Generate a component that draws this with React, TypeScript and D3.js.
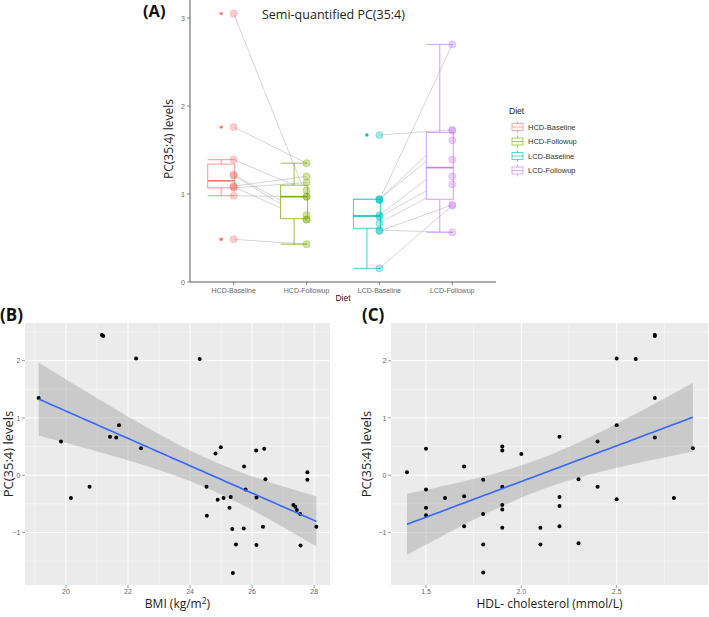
import React from "react";
import * as d3 from "d3";

// ---- panel A data (paired subjects, baseline -> followup)
const dietGroups = ["HCD-Baseline", "HCD-Followup", "LCD-Baseline", "LCD-Followup"];
const dietColors = ["#F8766D", "#7CAE00", "#00BFC4", "#C77CFF"];
const hcdBaseline = [3.05, 1.76, 1.39, 1.22, 1.21, 1.09, 1.08, 1.07, 0.98, 0.485];
const hcdFollowup = [0.97, 1.35, 1.04, 0.76, 0.71, 1.2, 0.71, 1.13, 0.97, 0.43];
const lcdBaseline = [1.67, 0.94, 0.94, 0.93, 0.76, 0.74, 0.67, 0.59, 0.58, 0.155];
const lcdFollowup = [1.73, 1.72, 1.61, 2.7, 1.39, 1.2, 1.11, 0.565, 0.875, 0.87];
// box stats
const boxLower = [0.98, 0.43, 0.155, 0.565];
const boxQ1 = [1.07, 0.72, 0.61, 0.94];
const boxMedian = [1.15, 0.97, 0.75, 1.3];
const boxQ3 = [1.34, 1.1, 0.94, 1.7];
const boxUpper = [1.39, 1.35, 0.94, 2.7];
const yTicksA = [0, 1, 2, 3];

// ---- panel B / C data
const bmi = [19.12, 19.84, 20.16, 20.76, 21.16, 21.2, 21.42, 21.62, 21.71, 22.26, 22.42, 24.31, 24.53, 24.54, 24.82, 24.89, 24.99, 25.08, 25.27, 25.31, 25.36, 25.38, 25.48, 25.74, 25.73, 25.79, 26.13, 26.14, 26.14, 26.35, 26.39, 26.43, 27.33, 27.39, 27.44, 27.55, 27.56, 27.78, 27.78, 28.07];
const pcB = [1.35, 0.59, -0.4, -0.2, 2.45, 2.43, 0.67, 0.66, 0.87, 2.04, 0.47, 2.03, -0.2, -0.71, 0.38, -0.43, 0.49, -0.4, -0.57, -0.38, -0.94, -1.71, -1.21, 0.15, -0.93, -0.25, 0.43, -0.39, -1.22, -0.9, 0.46, -0.07, -0.52, -0.55, -0.61, -0.68, -1.23, 0.05, -0.08, -0.9];
const hdl = [1.4, 1.5, 1.5, 1.5, 1.5, 1.6, 1.7, 1.7, 1.7, 1.8, 1.8, 1.8, 1.8, 1.9, 1.9, 1.9, 1.9, 1.9, 1.9, 2.0, 2.1, 2.1, 2.2, 2.2, 2.2, 2.2, 2.3, 2.3, 2.4, 2.4, 2.5, 2.5, 2.5, 2.6, 2.7, 2.7, 2.7, 2.7, 2.8, 2.9];
const pcC = [0.05, 0.46, -0.25, -0.57, -0.7, -0.4, 0.15, -0.37, -0.89, -0.08, -0.68, -1.21, -1.7, 0.5, 0.43, -0.2, -0.52, -0.6, -0.92, 0.37, -0.92, -1.21, 0.67, -0.38, -0.54, -0.89, -0.07, -1.19, 0.59, -0.2, 2.04, 0.87, -0.42, 2.03, 2.45, 2.43, 1.35, 0.66, -0.4, 0.47];
const xTicksB = [20, 22, 24, 26, 28];
const xMinorB = [19, 21, 23, 25, 27];
const xTicksC = [1.5, 2.0, 2.5];
const xMinorC = [1.75, 2.25, 2.75];
const yTicksBC = [-1, 0, 1, 2];
const yMinorBC = [-1.5, -0.5, 0.5, 1.5, 2.5];

const TEXT_FONT = "'Open Sans', sans-serif";
const TICK_FONT = "'Liberation Sans', Arial, sans-serif";

// lm fit with 95% band, like geom_smooth(method = "lm")
function lmBand(xs: number[], ys: number[]) {
  const n = xs.length;
  const mx = d3.mean(xs) as number;
  const my = d3.mean(ys) as number;
  const sxx = d3.sum(xs, (x) => (x - mx) ** 2);
  const sxy = d3.sum(xs, (x, i) => (x - mx) * (ys[i] - my));
  const b = sxy / sxx;
  const a = my - b * mx;
  const s = Math.sqrt(d3.sum(xs, (x, i) => (ys[i] - a - b * x) ** 2) / (n - 2));
  const t = 2.024;
  const [lo, hi] = d3.extent(xs) as [number, number];
  return d3.range(80).map((k) => {
    const x = lo + ((hi - lo) * k) / 79;
    const se = s * Math.sqrt(1 / n + (x - mx) ** 2 / sxx);
    const y = a + b * x;
    return { x, y, lo: y - t * se, hi: y + t * se };
  });
}

function ScatterPanel(props: {
  xs: number[]; ys: number[]; xDomain: [number, number]; left: number; right: number;
  xTicks: number[]; xMinor: number[]; fmt: (v: number) => string;
  tag: string; tagX: number; yLabelX: number; xLabel: React.ReactNode;
}) {
  const { xs, ys, left, right } = props;
  const top = 323, bottom = 585;
  const x = d3.scaleLinear().domain(props.xDomain).range([left, right]);
  const y = d3.scaleLinear().domain([-1.918, 2.658]).range([bottom, top]);
  const fit = lmBand(xs, ys);
  const area = d3.area<any>().x((d) => x(d.x)).y0((d) => y(d.lo)).y1((d) => y(d.hi));
  const line = d3.line<any>().x((d) => x(d.x)).y((d) => y(d.y));
  return (
    <g>
      <rect x={left} y={top} width={right - left} height={bottom - top} fill="#EBEBEB" />
      {props.xMinor.map((v) => (
        <line key={"xm" + v} x1={x(v)} x2={x(v)} y1={top} y2={bottom} stroke="#fff" strokeWidth={0.5} />
      ))}
      {yMinorBC.map((v) => (
        <line key={"ym" + v} x1={left} x2={right} y1={y(v)} y2={y(v)} stroke="#fff" strokeWidth={0.5} />
      ))}
      {props.xTicks.map((v) => (
        <line key={"xg" + v} x1={x(v)} x2={x(v)} y1={top} y2={bottom} stroke="#fff" strokeWidth={1} />
      ))}
      {yTicksBC.map((v) => (
        <line key={"yg" + v} x1={left} x2={right} y1={y(v)} y2={y(v)} stroke="#fff" strokeWidth={1} />
      ))}
      <path d={area(fit) as string} fill="#999999" fillOpacity={0.4} />
      {xs.map((v, i) => (
        <circle key={i} cx={x(v)} cy={y(ys[i])} r={2} fill="#000" />
      ))}
      <path d={line(fit) as string} fill="none" stroke="#3366FF" strokeWidth={1.6} />
      {props.xTicks.map((v) => (
        <g key={"xt" + v}>
          <line x1={x(v)} x2={x(v)} y1={bottom} y2={bottom + 3} stroke="#555" strokeWidth={0.6} />
          <text x={x(v)} y={bottom + 9} fontSize={7} fontFamily={TICK_FONT} fill="#666" textAnchor="middle">
            {props.fmt(v)}
          </text>
        </g>
      ))}
      {yTicksBC.map((v) => (
        <g key={"yt" + v}>
          <line x1={left - 3} x2={left} y1={y(v)} y2={y(v)} stroke="#555" strokeWidth={0.6} />
          <text x={left - 4.5} y={y(v) + 2.6} fontSize={7.2} fontFamily={TICK_FONT} fill="#666" textAnchor="end">
            {v < 0 ? "\u2212" + Math.abs(v) : v}
          </text>
        </g>
      ))}
      <text
        transform={`translate(${props.yLabelX},${454}) rotate(-90)`}
        fontSize={13} fontFamily={TEXT_FONT} fill="#222" textAnchor="middle">
        PC(35:4) levels
      </text>
      <text x={(left + right) / 2} y={608} fontSize={12} fontFamily={TEXT_FONT} fill="#222" textAnchor="middle">
        {props.xLabel}
      </text>
      <text x={props.tagX} y={321} fontSize={17} fontWeight="bold" fontFamily={TEXT_FONT} fill="#111">
        {props.tag}
      </text>
    </g>
  );
}

function PanelA() {
  const groups = [hcdBaseline, hcdFollowup, lcdBaseline, lcdFollowup];
  const x = d3.scalePoint<string>().domain(dietGroups).range([190, 496]).padding(0.6);
  const y = d3.scaleLinear().domain([0, 3]).range([282, 18]);
  const boxOffset = -12.5;
  const halfW = 13.5;
  const pairs: [number, number][] = [[0, 1], [2, 3]];
  return (
    <g>
      {/* paired lines */}
      {pairs.map(([a, b]) =>
        groups[a].map((v, i) => (
          <line key={a + "-" + i} x1={x(dietGroups[a])} y1={y(v)} x2={x(dietGroups[b])} y2={y(groups[b][i])}
            stroke="#c4c4c4" strokeWidth={0.9} strokeOpacity={0.8} />
        ))
      )}
      {/* boxplots */}
      {dietGroups.map((g, i) => {
        const cx = (x(g) as number) + boxOffset;
        const c = dietColors[i];
        return (
          <g key={g} stroke={c} fill="none">
            <g strokeOpacity={0.75} strokeWidth={1}>
              <line x1={cx - halfW} x2={cx + halfW} y1={y(boxUpper[i])} y2={y(boxUpper[i])} />
              <line x1={cx - halfW} x2={cx + halfW} y1={y(boxLower[i])} y2={y(boxLower[i])} />
              <line x1={cx} x2={cx} y1={y(boxUpper[i])} y2={y(boxQ3[i])} />
              <line x1={cx} x2={cx} y1={y(boxLower[i])} y2={y(boxQ1[i])} />
              <rect x={cx - halfW} width={2 * halfW} y={y(boxQ3[i])} height={y(boxQ1[i]) - y(boxQ3[i])} fill="#fff" />
            </g>
            <line x1={cx - halfW} x2={cx + halfW} y1={y(boxMedian[i])} y2={y(boxMedian[i])} strokeWidth={1.6} />
            {groups[i]
              .filter((v) => v < boxLower[i] || v > boxUpper[i])
              .map((v, k) => (
                <circle key={k} cx={cx} cy={y(v)} r={1.7} fill={c} stroke="none" />
              ))}
          </g>
        );
      })}
      {/* raw points */}
      {dietGroups.map((g, i) =>
        groups[i].map((v, k) => (
          <circle key={g + k} cx={x(g)} cy={y(v)} r={3.6} fill={dietColors[i]} fillOpacity={0.35}
            stroke={dietColors[i]} strokeOpacity={0.35} strokeWidth={0.8} />
        ))
      )}
      {/* axes */}
      <line x1={190} x2={190} y1={0} y2={282} stroke="#333" strokeWidth={0.8} />
      <line x1={190} x2={496} y1={282} y2={282} stroke="#333" strokeWidth={0.8} />
      {yTicksA.map((v) => (
        <g key={v}>
          <line x1={187} x2={190} y1={y(v)} y2={y(v)} stroke="#333" strokeWidth={0.6} />
          <text x={185} y={y(v) + 2.6} fontSize={7} fontFamily={TICK_FONT} fill="#666" textAnchor="end">{v}</text>
        </g>
      ))}
      {dietGroups.map((g) => (
        <g key={"xt" + g}>
          <line x1={x(g)} x2={x(g)} y1={282} y2={285} stroke="#333" strokeWidth={0.6} />
          <text x={x(g)} y={293} fontSize={7} fontFamily={TICK_FONT} fill="#666" textAnchor="middle">{g}</text>
        </g>
      ))}
      <text x={343} y={301} fontSize={8.5} fontFamily={TICK_FONT} fill="#222" textAnchor="middle">Diet</text>
      <text transform="translate(173,139) rotate(-90)" fontSize={12} fontFamily={TEXT_FONT} fill="#222" textAnchor="middle">
        PC(35:4) levels
      </text>
      <text x={262} y={19} fontSize={12.5} fontFamily={TEXT_FONT} fill="#222">Semi-quantified PC(35:4)</text>
      <text x={143} y={17} fontSize={16.5} fontWeight="bold" fontFamily={TEXT_FONT} fill="#111">(A)</text>
      {/* legend */}
      <text x={509} y={114} fontSize={8.5} fontFamily={TICK_FONT} fill="#222">Diet</text>
      {dietGroups.map((g, i) => {
        const cy = 127 + i * 14.5;
        const c = dietColors[i];
        return (
          <g key={"lg" + g}>
            <g stroke={c} strokeOpacity={0.7} fill="none" strokeWidth={0.9}>
              <line x1={517.5} x2={517.5} y1={cy - 6} y2={cy + 6} />
              <rect x={512} y={cy - 3.5} width={11} height={7} fill="#fff" />
              <line x1={512} x2={523} y1={cy} y2={cy} />
            </g>
            <text x={528} y={cy + 2.8} fontSize={7.5} fontFamily={TICK_FONT} fill="#333">{g}</text>
          </g>
        );
      })}
    </g>
  );
}

export default function App() {
  return (
    <svg width={709} height={617} style={{ position: "absolute", left: 0, top: 0, background: "#fff" }}>
      <PanelA />
      <ScatterPanel
        xs={bmi} ys={pcB} xDomain={[18.68, 28.51]} left={25} right={330}
        xTicks={xTicksB} xMinor={xMinorB} fmt={(v) => String(v)}
        tag="(B)" tagX={0} yLabelX={12.5}
        xLabel={<>BMI (kg/m<tspan fontSize={8.5} dy={-4.5}>2</tspan><tspan dy={4.5}>)</tspan></>}
      />
      <ScatterPanel
        xs={hdl} ys={pcC} xDomain={[1.3164, 2.979]} left={391} right={708}
        xTicks={xTicksC} xMinor={xMinorC} fmt={(v) => v.toFixed(1)}
        tag="(C)" tagX={362} yLabelX={371}
        xLabel="HDL- cholesterol (mmol/L)"
      />
    </svg>
  );
}
